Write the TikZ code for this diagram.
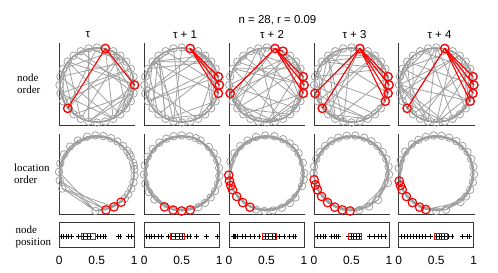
\documentclass[tikz,border=0pt]{standalone}
\usepackage{fontspec}
\setmainfont{Liberation Serif}
\newfontfamily\hsans{Liberation Sans}
\definecolor{gc}{RGB}{158,158,158}
\definecolor{ac}{RGB}{55,55,55}
\begin{document}
\begin{tikzpicture}[x=1bp,y=-1bp,
  gline/.style={draw=gc,line width=0.75bp},
  gnode/.style={circle,draw=gc,line width=0.75bp,minimum size=7.5bp,inner sep=0pt},
  rline/.style={draw=red,line width=1.1bp},
  rnode/.style={circle,draw=red,line width=1.2bp,minimum size=8.5bp,inner sep=0pt},
  axl/.style={draw=ac,line width=0.7bp},
  ttl/.style={font=\hsans\fontsize{11.5}{13}\selectfont,inner sep=0pt},
  ticklab/.style={font=\hsans\fontsize{12}{14}\selectfont,inner sep=0pt},
  rowl/.style={font=\fontsize{11}{11.8}\selectfont,align=left,anchor=west,inner sep=0pt},
  pmark/.style={draw=black,line width=0.6bp},
  rbox/.style={draw=red,line width=0.9bp}]
\useasboundingbox (0,0) rectangle (498,272);
\fill[white] (0,0) rectangle (498,272);

% titles
\node[ttl] (title) at (277.5,20) {n = 28, r = 0.09};
\node[ttl] (h0) at (88,35) {τ};
\node[ttl] (h1) at (185,35) {τ + 1};
\node[ttl] (h2) at (272,35) {τ + 2};
\node[ttl] (h3) at (354.5,35) {τ + 3};
\node[ttl] (h4) at (439.5,35) {τ + 4};

% row labels
\node[rowl] (r1) at (17,84) {node\\order};
\node[rowl] (r2) at (14,173.5) {location\\order};
\node[rowl] (r3) at (15.5,236.5) {node\\position};

% ---------- top row: node order ----------
\foreach \c/\rl in {0/{7,18},1/{6,7,8},2/{2,6,7,8,20},3/{6,7,8,9,20,18},4/{6,7,8,9,18}} {
  \pgfmathsetmacro{\cx}{97+84.85*\c}
  \pgfmathsetmacro{\lx}{59.3+84.85*\c}
  \foreach \j in {0,...,27} {
    \coordinate (T\c-\j) at ({\cx+37.5*cos(90-12.857*\j)},{85-37.5*sin(90-12.857*\j)});
  }
  \draw[axl] (\lx,43) -- (\lx,125) -- ({\lx+76},125);
  \foreach \j in {0,...,27} {
    \pgfmathtruncatemacro{\ja}{mod(\j+1,28)}
    \pgfmathtruncatemacro{\jb}{mod(\j+2,28)}
    \draw[gline] (T\c-\j) -- (T\c-\ja) (T\c-\j) -- (T\c-\jb);
  }
  \pgfmathtruncatemacro{\sd}{17+31*\c}
  \pgfmathsetseed{\sd}
  \foreach \k in {1,...,42} {
    \pgfmathrandominteger{\ra}{0}{27}
    \pgfmathrandominteger{\rb}{0}{27}
    \draw[gline] (T\c-\ra) -- (T\c-\rb);
  }
  \foreach \j in {0,...,27} {
    \node[gnode] (TN\c-\j) at (T\c-\j) {};
  }
  \foreach \r in \rl {
    \draw[rline] (T\c-1) -- (T\c-\r);
  }
  \foreach \r in \rl {
    \node[rnode] (TR\c-\r) at (T\c-\r) {};
  }
  \node[rnode] (TH\c) at (T\c-1) {};
}

% ---------- middle row: location order ----------
\foreach \c/\lst in {
 0/{204/0,191/0,178/0,165/0,150/0,135/0,120/0,105/0,92/0,80/0,68/0,57/0,46/0,36/0,30/0,26/0,16/0,11/0,6/0,-4/0,-14/0,-24/0,-34/0,-42/0,-50/1,-63/1,-76/1,-92/0},
 1/{224/0,210/0,196/0,182/0,168/0,154/0,140/0,126/0,114/0,102/0,90/0,78/0,68/0,60/0,44/0,32/0,20/0,8/0,-4/0,-16/0,-28/0,-40/0,-52/0,-64/0,-77/1,-90/1,-103/1,-117/1},
 2/{162/0,148/0,134/0,120/0,106/0,92/0,78/0,64/0,52/0,42/0,32/0,16/0,0/0,-10/0,-20/0,-40/0,-52/0,-66/0,-80/0,-93/0,-106/0,-116/1,-129/1,-142/1,-154/1,-161/1,-168/1,-177/1},
 3/{180/0,170/0,158/0,146/0,134/0,122/0,110/0,97/0,84/0,70/0,58/0,46/0,34/0,22/0,10/0,-2/0,-15/0,-45/0,-62/0,-78/0,-92/1,-104/1,-116/1,-129/1,-142/1,-154/1,-162/1,-170/1},
 4/{172/0,160/0,145/0,130/0,118/0,106/0,94/0,82/0,70/0,58/0,46/0,34/0,22/0,10/0,-2/0,-14/0,-26/0,-38/0,-50/0,-75/0,-90/0,-106/1,-116/1,-129/1,-142/1,-154/1,-161/1,-168/1}} {
  \pgfmathsetmacro{\cx}{96.8+84.85*\c}
  \pgfmathsetmacro{\lx}{59.3+84.85*\c}
  \foreach \a/\f [count=\i from 0] in \lst {
    \coordinate (M\c-\i) at ({\cx+37.8*cos(\a)},{173.2-37.8*sin(\a)});
  }
  \draw[axl] (\lx,134) -- (\lx,214.3) -- ({\lx+76},214.3);
  \foreach \j in {0,...,27} {
    \pgfmathtruncatemacro{\ja}{mod(\j+1,28)}
    \pgfmathtruncatemacro{\jb}{mod(\j+2,28)}
    \pgfmathtruncatemacro{\jc}{mod(\j+3,28)}
    \draw[gline] (M\c-\j) -- (M\c-\ja) (M\c-\j) -- (M\c-\jb) (M\c-\j) -- (M\c-\jc);
  }
  \foreach \a/\f [count=\i from 0] in \lst {
    \ifnum\f=0 \node[gnode] (MN\c-\i) at (M\c-\i) {};\fi
  }
  \foreach \a/\f [count=\i from 0] in \lst {
    \ifnum\f=1 \node[rnode] (MR\c-\i) at (M\c-\i) {};\fi
  }
}

% ---------- bottom row: node position ----------
\foreach \c/\pa/\pb/\ps in {
 0/0.29/0.48/{0.027,0.058,0.093,0.124,0.16,0.248,0.29,0.323,0.367,0.411,0.50,0.544,0.58,0.61,0.78,0.81,0.92,0.965},
 1/0.344/0.536/{0.03,0.067,0.098,0.134,0.188,0.232,0.32,0.366,0.41,0.464,0.51,0.57,0.61,0.70,0.83,0.98},
 2/0.444/0.63/{0.06,0.067,0.075,0.089,0.11,0.178,0.222,0.289,0.333,0.4,0.48,0.53,0.578,0.613,0.676,0.733,0.8,0.853,0.88},
 3/0.46/0.64/{0.05,0.09,0.12,0.15,0.23,0.27,0.30,0.33,0.46,0.50,0.53,0.56,0.60,0.74,0.81,0.86,0.90,0.95},
 4/0.47/0.65/{0.03,0.07,0.12,0.16,0.19,0.24,0.28,0.31,0.36,0.42,0.50,0.54,0.57,0.61,0.66,0.71,0.85,0.91,0.94}} {
  \pgfmathsetmacro{\lx}{59.3+84.85*\c}
  \draw[axl] (\lx,222.3) rectangle ({\lx+75},247.5);
  \foreach \p in \ps {
    \draw[pmark] ({\lx+75*\p-2.3},236.3) -- ++(4.6,0) ({\lx+75*\p},234) -- ++(0,4.6);
  }
  \draw[rbox] ({\lx+75*\pa},233) rectangle ({\lx+75*\pb},239.6);
  \node[ticklab] (z\c) at (\lx,260) {0};
  \node[ticklab] (m\c) at ({\lx+37.5},260) {0.5};
  \node[ticklab] (o\c) at ({\lx+75},260) {1};
}
\end{tikzpicture}
\end{document}
